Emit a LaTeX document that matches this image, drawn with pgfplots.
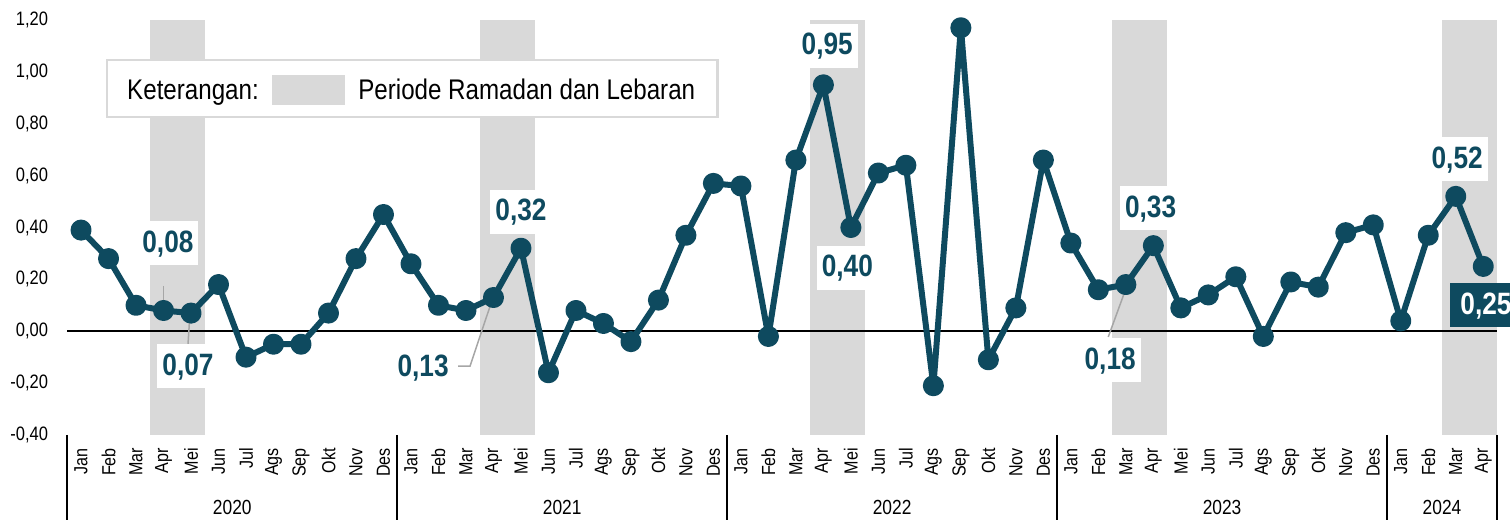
\documentclass[border=0pt]{standalone}
\usepackage{fontspec}
\setmainfont[FakeStretch=0.85]{Liberation Sans}
\usepackage{pgfplots}
\pgfplotsset{compat=1.18}
\definecolor{mainc}{HTML}{0E4A5F}
\definecolor{band}{HTML}{D9D9D9}
\definecolor{leader}{HTML}{A6A6A6}
\begin{document}
\begin{tikzpicture}[x=1bp,y=1bp]
\useasboundingbox (0,0) rectangle (1510,520);
\begin{axis}[
  at={(67.3bp,85bp)}, anchor=south west,
  scale only axis, width=1429.7bp, height=415bp,
  xmin=-0.5, xmax=51.5, ymin=-0.4, ymax=1.2,
  clip=false,
  axis x line*=bottom, axis y line*=left,
  axis line style={draw=none},
  major tick length=0pt,
  ytick={-0.4,-0.2,0,0.2,0.4,0.6,0.8,1.0,1.2},
  yticklabel style={/pgf/number format/fixed, /pgf/number format/fixed zerofill, /pgf/number format/precision=2, /pgf/number format/use comma, /pgf/number format/assume math mode=true},
  yticklabel style={font=\fontsize{19.5}{21}\selectfont, anchor=east, inner sep=0pt, xshift=-19bp},
  xtick={0,...,51},
  xticklabels={Jan,Feb,Mar,Apr,Mei,Jun,Jul,Ags,Sep,Okt,Nov,Des,
               Jan,Feb,Mar,Apr,Mei,Jun,Jul,Ags,Sep,Okt,Nov,Des,
               Jan,Feb,Mar,Apr,Mei,Jun,Jul,Ags,Sep,Okt,Nov,Des,
               Jan,Feb,Mar,Apr,Mei,Jun,Jul,Ags,Sep,Okt,Nov,Des,
               Jan,Feb,Mar,Apr},
  xticklabel style={font=\fontsize{19}{20}\selectfont, yshift=-13bp, rotate=90, anchor=east, inner sep=0pt},
]
% Ramadan bands
\addplot[fill=band, draw=none, forget plot] coordinates {(2.5,-0.4) (4.5,-0.4) (4.5,1.2) (2.5,1.2)} -- cycle;
\addplot[fill=band, draw=none, forget plot] coordinates {(14.5,-0.4) (16.5,-0.4) (16.5,1.2) (14.5,1.2)} -- cycle;
\addplot[fill=band, draw=none, forget plot] coordinates {(26.5,-0.4) (28.5,-0.4) (28.5,1.2) (26.5,1.2)} -- cycle;
\addplot[fill=band, draw=none, forget plot] coordinates {(37.5,-0.4) (39.5,-0.4) (39.5,1.2) (37.5,1.2)} -- cycle;
\addplot[fill=band, draw=none, forget plot] coordinates {(49.5,-0.4) (51.5,-0.4) (51.5,1.2) (49.5,1.2)} -- cycle;
% legend box
\draw[fill=white, draw=band, line width=2.5bp] (axis cs:0.946,1.046) rectangle (axis cs:23.14,0.826);
\fill[band] (axis cs:6.95,0.988) rectangle (axis cs:9.6,0.872);
\node[anchor=base west, inner sep=0pt, font=\fontsize{28.5}{30}\selectfont] at (axis cs:1.673,0.892) {Keterangan:};
\node[anchor=base west, inner sep=0pt, font=\fontsize{28.5}{30}\selectfont] at (axis cs:10.08,0.892) {Periode Ramadan dan Lebaran};
% zero line
\draw[black, line width=2bp] (axis cs:-0.5,0) -- (axis cs:51.5,0);
% separators
\draw[black, line width=2bp] (axis cs:-0.5,-0.4) -- (axis cs:-0.5,-0.73);
\draw[black, line width=2bp] (axis cs:11.5,-0.4) -- (axis cs:11.5,-0.73);
\draw[black, line width=2bp] (axis cs:23.5,-0.4) -- (axis cs:23.5,-0.73);
\draw[black, line width=2bp] (axis cs:35.5,-0.4) -- (axis cs:35.5,-0.73);
\draw[black, line width=2bp] (axis cs:47.5,-0.4) -- (axis cs:47.5,-0.73);
\draw[black, line width=2bp] (axis cs:51.5,-0.4) -- (axis cs:51.5,-0.73);
% year labels
\node[font=\fontsize{20.5}{22}\selectfont, inner sep=0pt] at (axis cs:5.5,-0.678) {2020};
\node[font=\fontsize{20.5}{22}\selectfont, inner sep=0pt] at (axis cs:17.5,-0.678) {2021};
\node[font=\fontsize{20.5}{22}\selectfont, inner sep=0pt] at (axis cs:29.5,-0.678) {2022};
\node[font=\fontsize{20.5}{22}\selectfont, inner sep=0pt] at (axis cs:41.5,-0.678) {2023};
\node[font=\fontsize{20.5}{22}\selectfont, inner sep=0pt] at (axis cs:49.5,-0.678) {2024};
% leader lines
\draw[leader, line width=1.5bp] (axis cs:3,0.175) -- (axis cs:3,0.10);
\draw[leader, line width=1.5bp] (axis cs:3.95,0.05) -- (axis cs:3.89,-0.05);
\draw[leader, line width=1.5bp] (axis cs:13.71,-0.134) -- (axis cs:14.15,-0.134) -- (axis cs:14.95,0.12);
\draw[leader, line width=1.5bp] (axis cs:38.05,0.178) -- (axis cs:37.36,-0.022);
% data
\addplot[mainc, line width=6bp, line join=round, line cap=round, mark=*, mark size=7.5bp, mark options={solid, fill=mainc, draw=none}] coordinates {
(0,0.39) (1,0.28) (2,0.10) (3,0.08) (4,0.07) (5,0.18) (6,-0.10) (7,-0.05) (8,-0.05) (9,0.07) (10,0.28) (11,0.45)
(12,0.26) (13,0.10) (14,0.08) (15,0.13) (16,0.32) (17,-0.16) (18,0.08) (19,0.03) (20,-0.04) (21,0.12) (22,0.37) (23,0.57)
(24,0.56) (25,-0.02) (26,0.66) (27,0.95) (28,0.40) (29,0.61) (30,0.64) (31,-0.21) (32,1.17) (33,-0.11) (34,0.09) (35,0.66)
(36,0.34) (37,0.16) (38,0.18) (39,0.33) (40,0.09) (41,0.14) (42,0.21) (43,-0.02) (44,0.19) (45,0.17) (46,0.38) (47,0.41)
(48,0.04) (49,0.37) (50,0.52) (51,0.25)
};
% data labels
\tikzset{dl/.style={fill=white, text=mainc, font=\fontsize{31}{32}\selectfont\bfseries, inner xsep=5bp, inner ysep=9bp, text height=22bp, text depth=4bp}}
\node[dl] at (axis cs:3.16,0.34) {0,08};
\node[dl] at (axis cs:3.89,-0.134) {0,07};
\node[dl] at (axis cs:16.0,0.46) {0,32};
\node[dl] at (axis cs:12.44,-0.138) {0,13};
\node[dl] at (axis cs:27.14,1.10) {0,95};
\node[dl] at (axis cs:27.87,0.244) {0,40};
\node[dl] at (axis cs:38.9,0.475) {0,33};
\node[dl] at (axis cs:37.43,-0.111) {0,18};
\node[dl] at (axis cs:50.05,0.664) {0,52};
\node[dl, fill=mainc, text=white, anchor=west, inner xsep=10bp] at (axis cs:49.8,0.101) {0,25};
\end{axis}
\end{tikzpicture}
\end{document}
